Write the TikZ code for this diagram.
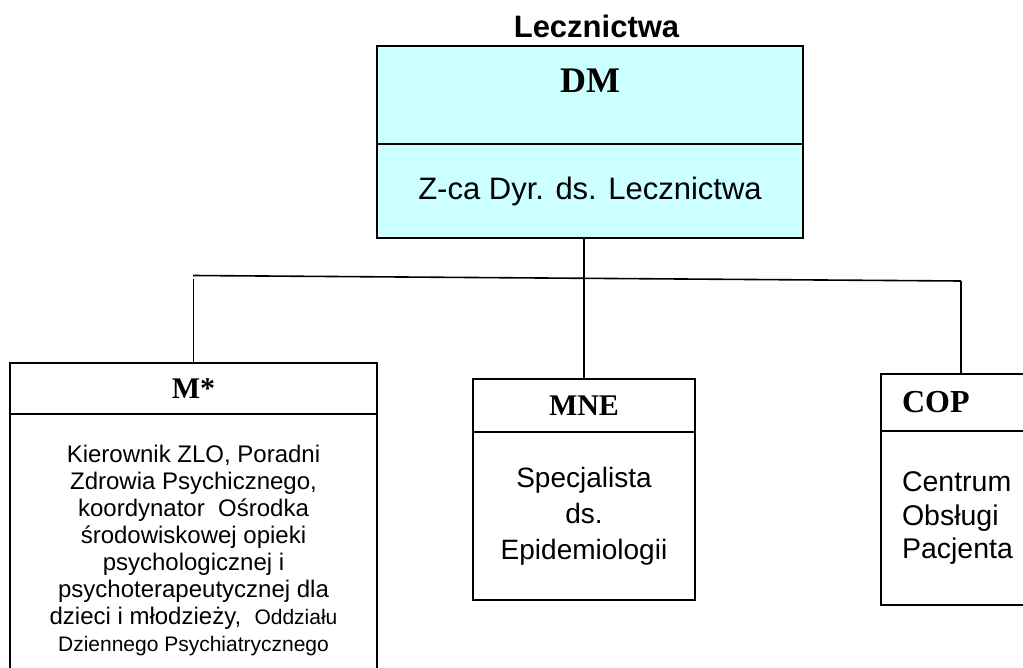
\documentclass[tikz,border=0pt]{standalone}
\usepackage{fontspec}
\setsansfont{Liberation Sans}
\newfontfamily\tnr{Liberation Serif}
\usepackage{xcolor}
\usepackage{tikz}
\usetikzlibrary{positioning}
\definecolor{dmcyan}{HTML}{CCFFFF}
\tikzset{hdr/.style={draw,line width=1.6pt,outer sep=0pt,inner sep=0pt,font=\tnr\bfseries\fontsize{30}{34}\selectfont}}
\tikzset{body/.style={draw,line width=1.6pt,outer sep=0pt,inner sep=0pt,align=center}}
\tikzset{bus/.style={line width=1.6pt}}

\begin{document}
\begin{tikzpicture}[x=1pt,y=-1pt]
    \useasboundingbox (0,0) rectangle (1023,667);
    \node[anchor=base,font=\sffamily\bfseries\fontsize{31}{35}\selectfont] (ttl) at (596.5,37) {Lecznictwa};

    \node[hdr,fill=dmcyan,minimum width=426pt,text height=46pt,text depth=52pt,font=\tnr\bfseries\fontsize{36}{40}\selectfont] (dmh) at (590,95) {DM};
    \node[body,fill=dmcyan,minimum width=426pt,minimum height=94pt,below=0pt of dmh,font=\sffamily\fontsize{31}{36}\selectfont] (dmb) {Z-ca Dyr. ds. Lecznictwa};

    \node[hdr,minimum width=367pt,minimum height=51pt] (mh) at (193.5,388.5) {M*};
    \node[body,minimum width=367pt,minimum height=272pt,below=0pt of mh,font=\sffamily\fontsize{24}{27}\selectfont] (mb) {Kierownik ZLO, Poradni\\ Zdrowia Psychicznego,\\ koordynator\ \ Ośrodka\\ środowiskowej opieki\\ psychologicznej i\\ psychoterapeutycznej dla\\ dzieci i młodzieży,\ \ {\fontsize{21}{27}\selectfont Oddziału}\\ {\fontsize{21}{27}\selectfont Dziennego Psychiatrycznego}};

    \node[hdr,minimum width=222pt,minimum height=53pt] (mneh) at (584,405.5) {MNE};
    \node[body,minimum width=222pt,minimum height=168pt,below=0pt of mneh,font=\sffamily\fontsize{28}{36}\selectfont] (mneb) {Specjalista\\ ds.\\ Epidemiologii};

    \node[hdr,text width=140pt,inner xsep=21pt,minimum height=57pt,align=left,font=\tnr\bfseries\fontsize{32}{36}\selectfont] (coph) at (972,402.5) {COP};
    \node[body,text width=140pt,inner xsep=21pt,minimum height=174pt,align=left,below=0pt of coph,font=\sffamily\fontsize{28.5}{33.5}\selectfont] (copb) {Centrum\\ Obsługi\\ Pacjenta};

    \coordinate (busl) at (193,275.5);
    \coordinate (busr) at (961,281);
    \draw [bus] (busl) to [] (busr);
    \draw [line width=1.4pt] (dmb.south -| mneh.north) to [] (mneh.north);
    \draw [line width=1.4pt] (mh.north) to [] ++(0,-84);
    \draw [line width=1.4pt] (busr) to [] (busr |- coph.north);
\end{tikzpicture}
\end{document}
